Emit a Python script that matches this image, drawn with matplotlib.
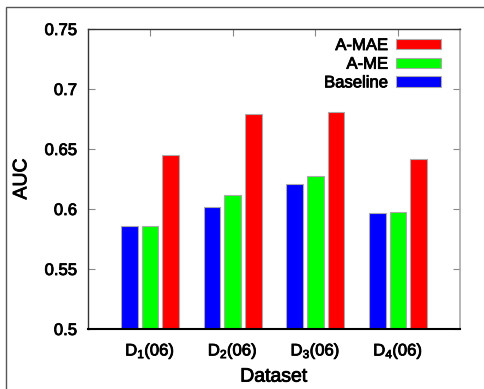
import matplotlib
matplotlib.use('Agg')

import matplotlib.pyplot as plt
import matplotlib.patheffects as pe
import numpy as np
from matplotlib.patches import Rectangle

plt.rcParams['font.family'] = ['Liberation Sans', 'DejaVu Sans']
plt.rcParams['mathtext.fontset'] = 'custom'
plt.rcParams['mathtext.rm'] = 'Liberation Sans'
plt.rcParams['mathtext.it'] = 'Liberation Sans:italic'

# data
datasets = [r'D$_{\mathrm{1}}$(06)', r'D$_{\mathrm{2}}$(06)',
            r'D$_{\mathrm{3}}$(06)', r'D$_{\mathrm{4}}$(06)']
baseline = [0.5856, 0.6014, 0.6208, 0.5967]
a_me = [0.5862, 0.6117, 0.6278, 0.5972]
a_mae = [0.6447, 0.6790, 0.6810, 0.6420]
yticks = [0.5, 0.55, 0.6, 0.65, 0.7, 0.75]
ytick_labels = ['0.5', '0.55', '0.6', '0.65', '0.7', '0.75']

fig = plt.figure(figsize=(4.85, 3.89), dpi=100)
ax = fig.add_axes([0.1814, 0.1542, 0.7671, 0.7712])

x = np.arange(1, len(datasets) + 1)
w = 0.2
off = 0.25
edge = dict(edgecolor='#aaaaaa', linewidth=0.8)
b1 = ax.bar(x - off, baseline, w, color='#0000ff', label='Baseline', **edge)
b2 = ax.bar(x, a_me, w, color='#00ff00', label='A-ME', **edge)
b3 = ax.bar(x + off, a_mae, w, color='#ff0000', label='A-MAE', **edge)

ax.set_xlim(0.25, 4.75)
ax.set_ylim(0.5, 0.75)
ax.set_yticks(yticks)
ax.set_yticklabels(ytick_labels, fontsize=12)
ax.set_xticks(x)
ax.set_xticklabels(datasets, fontsize=12)

ax.tick_params(axis='y', direction='in', left=True, right=True, length=5,
               color='#888888', pad=8)
ax.tick_params(axis='x', direction='in', bottom=False, top=True, length=5,
               color='#888888', pad=9)

for s in ['left', 'top']:
    ax.spines[s].set_color('#333333')
    ax.spines[s].set_linewidth(1.0)
ax.spines['right'].set_color('#aaaaaa')
ax.spines['right'].set_linewidth(1.2)
ax.spines['bottom'].set_color('black')
ax.spines['bottom'].set_linewidth(1.5)

ax.set_ylabel('AUC', fontsize=14)
ax.set_xlabel('Dataset', fontsize=14)
ax.yaxis.set_label_coords(-0.155, 0.5)
ax.xaxis.set_label_coords(0.5, -0.132)

leg = ax.legend(handles=[b3, b2, b1], loc='upper right',
                bbox_to_anchor=(0.988, 1.02), frameon=False,
                markerfirst=False, fontsize=12, handlelength=2.7,
                handleheight=0.6, labelspacing=0.22, handletextpad=0.45)

# make text a little heavier, like the original
heavy = [pe.withStroke(linewidth=0.6, foreground='black')]
texts = (ax.get_xticklabels() + ax.get_yticklabels() + leg.get_texts()
         + [ax.xaxis.label, ax.yaxis.label])
for t in texts:
    t.set_path_effects(heavy)

# outer frame of the original page
fig.patches.append(Rectangle((0.0134, -0.1), 1.2, 1.083, transform=fig.transFigure,
                             fill=False, edgecolor='#555555', linewidth=1.0))

fig.savefig('out.png', dpi=100)
